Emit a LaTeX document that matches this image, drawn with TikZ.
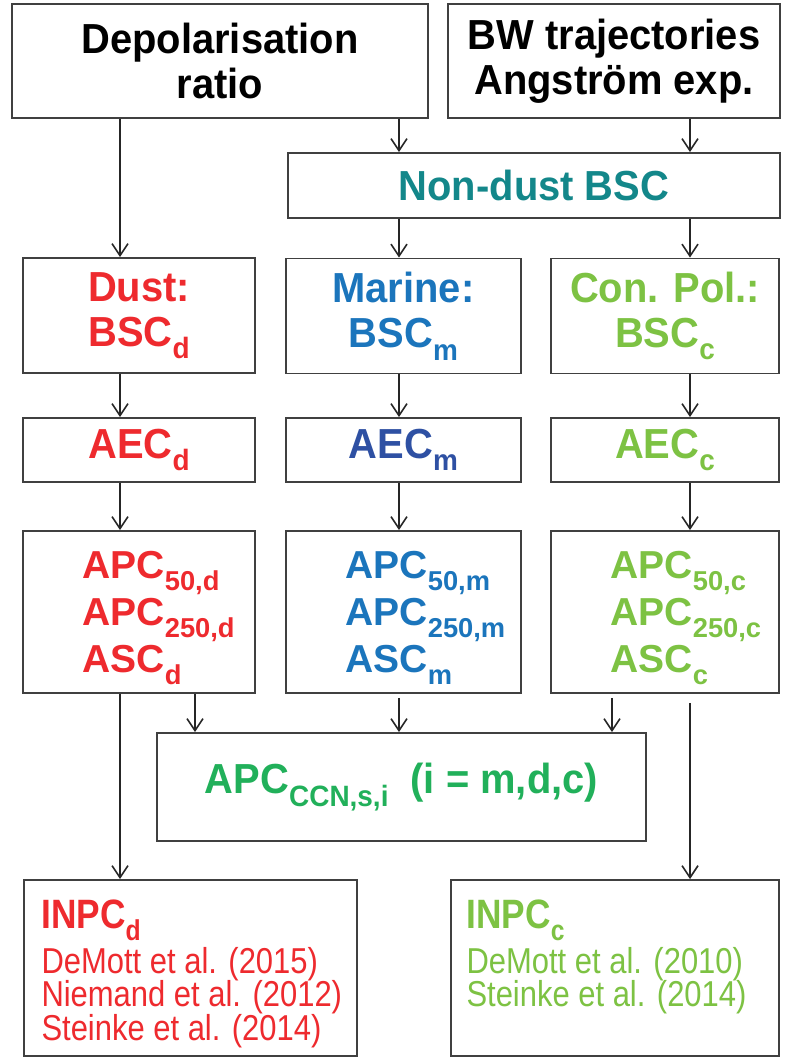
\documentclass[tikz,border=0pt]{standalone}
\usepackage{graphicx}
\usepackage{fontspec}
\setmainfont{Liberation Sans}
\newfontfamily\boxsans[FakeStretch=0.95]{Liberation Sans}
\newfontfamily\narrowsans[FakeStretch=0.86]{Liberation Sans}
\usetikzlibrary{arrows.meta, positioning}

\definecolor{dustred}{HTML}{EE2A2E}
\definecolor{marineblue}{HTML}{1B75BC}
\definecolor{aecblue}{HTML}{2E50A3}
\definecolor{conpolgreen}{HTML}{7DC243}
\definecolor{ccngreen}{HTML}{21B05A}
\definecolor{nondustteal}{HTML}{13878A}

\newcommand{\subtxt}[1]{\raisebox{-0.3em}{\scalebox{0.7}{#1}}}

\begin{document}
\begin{tikzpicture}[
    x=0.5pt, y=-0.5pt,
    box/.style={rectangle, draw=black!75, line width=0.9pt, fill=white, inner sep=0pt, align=center, font=\boxsans\fontsize{21}{22.5}\selectfont\bfseries},
    apctext/.style={inner sep=0pt, align=left, text=#1, font=\fontsize{19.5}{23.5}\selectfont\bfseries},
    inpctext/.style={inner sep=0pt, align=left, text=#1, font=\narrowsans\fontsize{18}{16.75}\selectfont, execute at begin node={\lineskiplimit=-\maxdimen}},
    arrow/.style={-{Straight Barb[length=6pt, width=8pt]}, line width=0.8pt, draw=black!85}
]
    \useasboundingbox (0,0) rectangle (788,1058);

    \coordinate (colD) at (120,0);
    \coordinate (colM) at (399,0);
    \coordinate (colC) at (690,0);
    \coordinate (ccnD) at (195,0);
    \coordinate (ccnC) at (612,0);

    \node[box, minimum width=208pt, minimum height=57pt] (depol) at (220,61) {Depolarisation\\ratio};
    \node[box, minimum width=166pt, minimum height=57pt] (bw) at (614,61) {BW trajectories\\Angström exp.};
    \node[box, minimum width=246pt, minimum height=32.5pt, text=nondustteal] (nondust) at (534,185.5) {Non-dust BSC};

    \node[box, minimum width=116pt, minimum height=57.5pt, text=dustred] (dust) at (139,315.5) {Dust:\\BSC\subtxt{d}};
    \node[box, minimum width=117.5pt, minimum height=57.5pt, text=marineblue] (marine) at (403.5,316) {Marine:\\BSC\subtxt{m}};
    \node[box, minimum width=114pt, minimum height=57.5pt, text=conpolgreen] (conpol) at (665,316) {Con. Pol.:\\BSC\subtxt{c}};

    \node[box, minimum width=116pt, minimum height=32pt, text=dustred] (aecd) at (139,450) {AEC\subtxt{d}};
    \node[box, minimum width=117.5pt, minimum height=32pt, text=aecblue] (aecm) at (403.5,450) {AEC\subtxt{m}};
    \node[box, minimum width=114pt, minimum height=32pt, text=conpolgreen] (aecc) at (665,450) {AEC\subtxt{c}};

    \node[box, minimum width=116pt, minimum height=81pt] (apcd) at (139,612) {};
    \node[box, minimum width=117.5pt, minimum height=81pt] (apcm) at (403.5,612) {};
    \node[box, minimum width=114pt, minimum height=81pt] (apcc) at (665,612) {};
    \node[apctext=dustred, right=30pt of apcd.west, yshift=-3pt] (apcdtext) {APC\subtxt{50,d}\\APC\subtxt{250,d}\\ASC\subtxt{d}};
    \node[apctext=marineblue, right=30pt of apcm.west, yshift=-3pt] (apcmtext) {APC\subtxt{50,m}\\APC\subtxt{250,m}\\ASC\subtxt{m}};
    \node[apctext=conpolgreen, right=30pt of apcc.west, yshift=-3pt] (apcctext) {APC\subtxt{50,c}\\APC\subtxt{250,c}\\ASC\subtxt{c}};

    \node[box, minimum width=244.5pt, minimum height=54pt, text=ccngreen] (ccn) at (401.5,787) {APC\subtxt{CCN,s,i}\ \ (i = m,d,c)};

    \node[box, minimum width=166.5pt, minimum height=88pt] (inpcd) at (190.5,968) {};
    \node[box, minimum width=164pt, minimum height=88pt] (inpcc) at (615,968) {};
    \node[inpctext=dustred, below right=10pt and 9pt of inpcd.north west] (inpcdtext) {{\fontsize{20.5}{16.75}\selectfont\bfseries INPC\subtxt{d}}\\[5.75pt]DeMott et al. (2015)\\Niemand et al. (2012)\\Steinke et al. (2014)};
    \node[inpctext=conpolgreen, below right=10pt and 8pt of inpcc.north west] (inpcctext) {{\fontsize{20.5}{16.75}\selectfont\bfseries INPC\subtxt{c}}\\[5.75pt]DeMott et al. (2010)\\Steinke et al. (2014)};

    \draw[arrow] (depol.south -| colD) -- (dust.north -| colD);
    \draw[arrow] (depol.south -| colM) -- (nondust.north -| colM);
    \draw[arrow] (bw.south -| colC) -- (nondust.north -| colC);
    \draw[arrow] (nondust.south -| colM) -- (marine.north -| colM);
    \draw[arrow] (nondust.south -| colC) -- (conpol.north -| colC);
    \draw[arrow] (dust.south -| colD) -- (aecd.north -| colD);
    \draw[arrow] (marine.south -| colM) -- (aecm.north -| colM);
    \draw[arrow] (conpol.south -| colC) -- (aecc.north -| colC);
    \draw[arrow] (aecd.south -| colD) -- (apcd.north -| colD);
    \draw[arrow] (aecm.south -| colM) -- (apcm.north -| colM);
    \draw[arrow] (aecc.south -| colC) -- (apcc.north -| colC);
    \draw[arrow] (apcd.south -| ccnD) -- (ccn.north -| ccnD);
    \draw[arrow, shorten <=2pt] (apcm.south -| colM) -- (ccn.north -| colM);
    \draw[arrow, shorten <=2pt] (apcc.south -| ccnC) -- (ccn.north -| ccnC);
    \draw[arrow] (apcd.south -| colD) -- (inpcd.north -| colD);
    \draw[arrow, shorten <=4.5pt] (apcc.south -| colC) -- (inpcc.north -| colC);
\end{tikzpicture}
\end{document}
